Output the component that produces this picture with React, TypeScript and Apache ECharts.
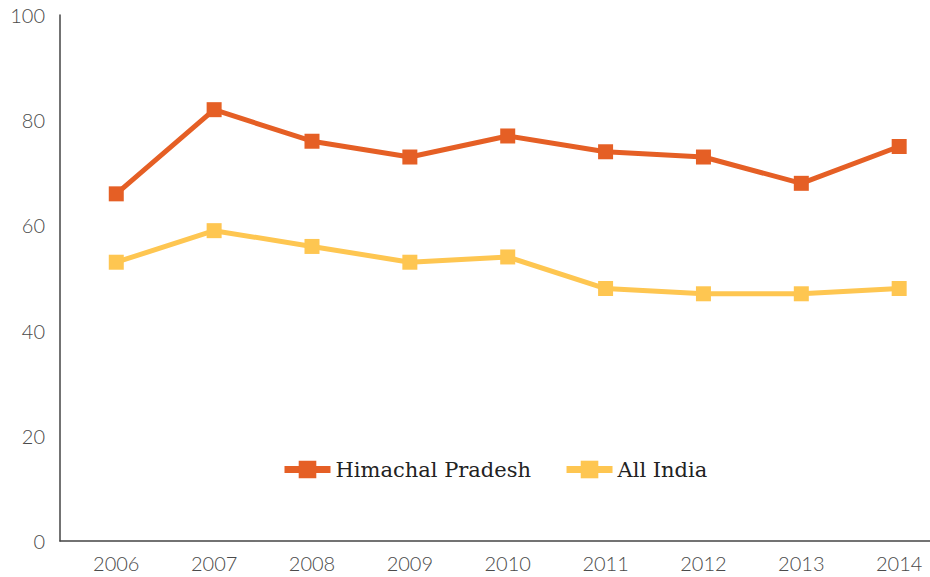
import React, { useEffect, useRef } from "react";
import * as echarts from "echarts";

const years = [2006, 2007, 2008, 2009, 2010, 2011, 2012, 2013, 2014];
const himachal = [66, 82, 76, 73, 77, 74, 73, 68, 75];
const allIndia = [53, 59, 56, 53, 54, 48, 47, 47, 48];
const yTicks = [0, 20, 40, 60, 80, 100];

export default function App() {
  const ref = useRef<HTMLDivElement>(null);
  useEffect(() => {
    const chart = echarts.init(ref.current!, null, { renderer: "svg" });
    const labelStyle = {
      fontFamily: "Lato",
      fontWeight: 300 as any,
      fontSize: 20,
      color: "#4a4a4a",
    };
    chart.setOption({
      animation: false,
      backgroundColor: "#ffffff",
      grid: { left: 60, right: 0, top: 15, bottom: 36 },
      legend: {
        left: 276,
        top: 454,
        itemWidth: 46,
        itemHeight: 22,
        itemGap: 32,
        lineStyle: { width: 7 },
        textStyle: { fontFamily: "DejaVu Serif", fontSize: 21, color: "#222222" },
        data: ["Himachal Pradesh", "All India"],
      },
      xAxis: {
        type: "value",
        min: 2005.425,
        max: 2014.315,
        splitLine: { show: false },
        axisTick: { show: false },
        axisLine: { show: true, lineStyle: { color: "#444444", width: 1.5 } },
        axisLabel: {
          ...labelStyle,
          margin: 12,
          customValues: years,
          formatter: (v: number) => String(v),
        },
      },
      yAxis: {
        type: "value",
        min: 0,
        max: 100,
        interval: 20,
        splitLine: { show: false },
        axisTick: { show: false },
        axisLine: { show: true, lineStyle: { color: "#444444", width: 1.5 } },
        axisLabel: { ...labelStyle, margin: 15, customValues: yTicks },
      },
      series: [
        {
          name: "Himachal Pradesh",
          type: "line",
          data: years.map((y, i) => [y, himachal[i]]),
          symbol: "rect",
          symbolSize: 15,
          lineStyle: { width: 5, color: "#E55F25" },
          itemStyle: { color: "#E55F25" },
        },
        {
          name: "All India",
          type: "line",
          data: years.map((y, i) => [y, allIndia[i]]),
          symbol: "rect",
          symbolSize: 15,
          lineStyle: { width: 5, color: "#FEC651" },
          itemStyle: { color: "#FEC651" },
        },
      ],
    });
    return () => chart.dispose();
  }, []);
  return <div ref={ref} style={{ width: 930, height: 577, position: "absolute", left: 0, top: 0 }} />;
}
